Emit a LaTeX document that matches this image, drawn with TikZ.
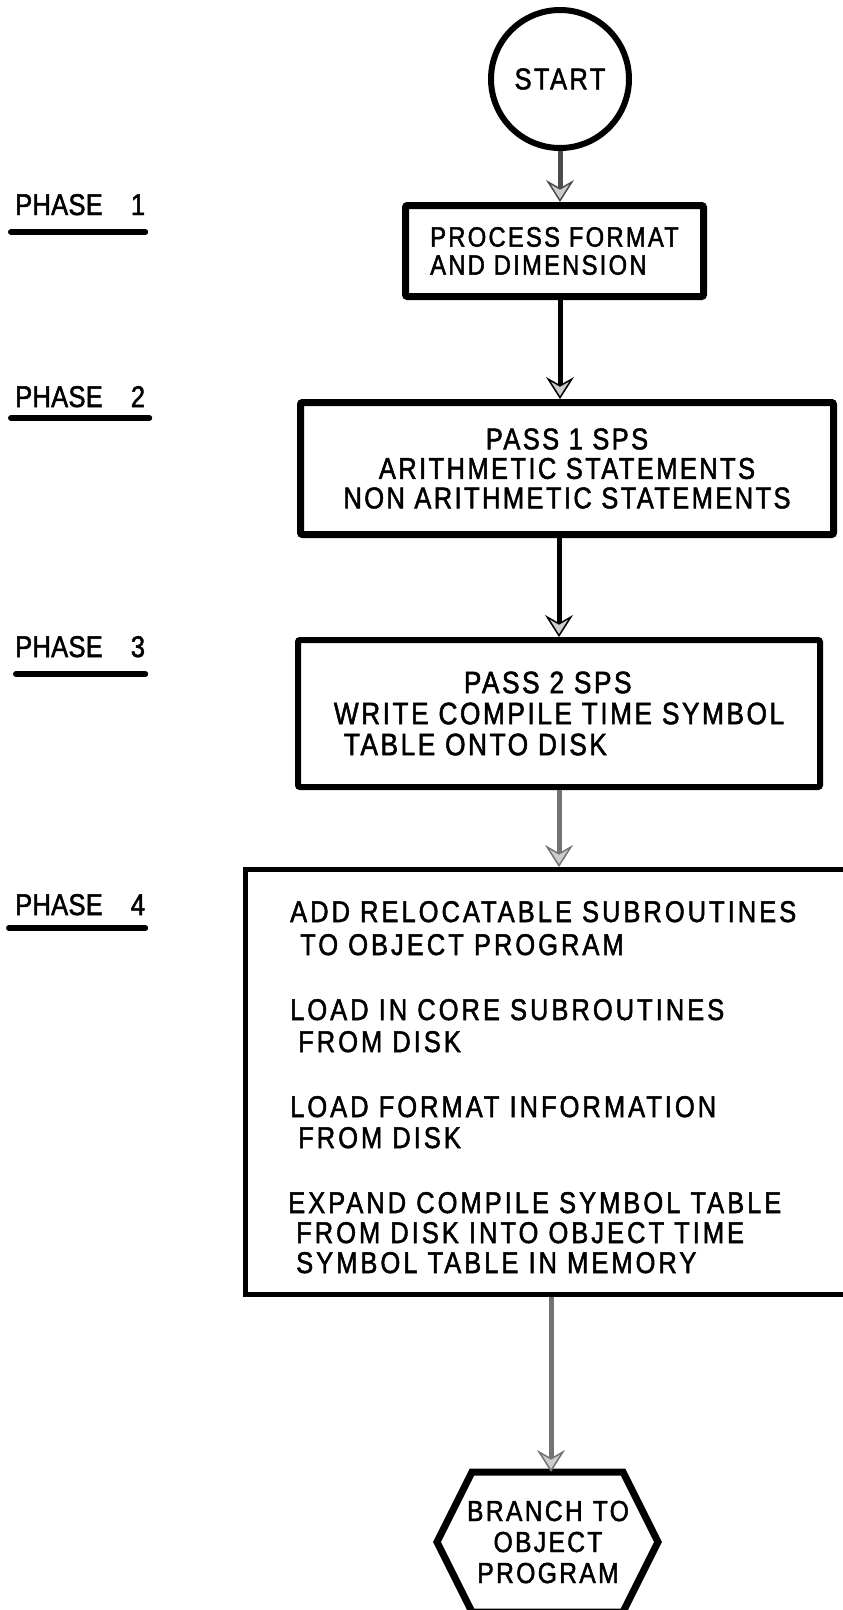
\documentclass[tikz,border=0pt]{standalone}
\usepackage{fontspec}
\setmainfont{Liberation Sans}[FakeStretch=0.85, LetterSpace=8, FakeBold=1.6]
\usetikzlibrary{arrows.meta}
\begin{document}
\begin{tikzpicture}[x=1pt,y=-1pt,
  phase/.style={font=\fontsize{30}{30}\selectfont\addfontfeature{LetterSpace=1}, inner sep=0pt, anchor=base west},
  uline/.style={line width=6pt, line cap=round},
  procbox/.style={draw, line width=7pt, rounded corners=2pt, inner sep=0pt},
  txt/.style={font=\fontsize{30}{30}\selectfont\addfontfeature{LetterSpace=10}, inner sep=0pt, anchor=base west},
  flow/.style={line width=5pt, -{Stealth[length=22pt,width=28pt,inset=8pt,line width=1.5pt,fill=black!20]}},
  faint/.style={draw=black!55},
]
\useasboundingbox (0,0) rectangle (843,1610);

% phase labels
\node[phase] (p1) at (15,215) {PHASE\hspace{28pt}1};
\node[phase] (p2) at (15,407) {PHASE\hspace{28pt}2};
\node[phase] (p3) at (15,657) {PHASE\hspace{28pt}3};
\node[phase] (p4) at (15,915) {PHASE\hspace{28pt}4};
\draw[uline] ([shift={(-4,17)}]p1.base west) -- ([shift={(0,17)}]p1.base east);
\draw[uline] ([shift={(-4,11)}]p2.base west) -- ([shift={(4,11)}]p2.base east);
\draw[uline] ([shift={(1,17)}]p3.base west) -- ([shift={(0,17)}]p3.base east);
\draw[uline] ([shift={(-6,13)}]p4.base west) -- ([shift={(0,13)}]p4.base east);

% start
\node[circle, draw, line width=6pt, minimum size=138pt, inner sep=0pt,
      font=\fontsize{30}{30}\selectfont] (start) at (560,79) {START};

% boxes
\node[procbox, minimum width=298pt, minimum height=91pt, align=left,
      font=\fontsize{28}{28}\selectfont] (b1) at (554.5,251)
      {PROCESS FORMAT\\AND DIMENSION};
\node[procbox, minimum width=533pt, minimum height=132pt, align=center,
      font=\fontsize{30}{29.5}\selectfont] (b2) at (567,468.5)
      {PASS 1 SPS\\ARITHMETIC STATEMENTS\\NON ARITHMETIC STATEMENTS};
\node[procbox, line width=6pt, minimum width=522pt, minimum height=147pt, align=left,
      font=\fontsize{31}{31}\selectfont] (b3) at (559,713.5)
      {\hspace*{130pt}PASS 2 SPS\\WRITE COMPILE TIME SYMBOL\\\hspace*{10pt}TABLE ONTO DISK};
\node[draw, line width=5pt, minimum width=635pt, minimum height=425pt, inner sep=0pt] (b4) at (563,1082) {};

\node[txt] (t1) at (290,922) {ADD RELOCATABLE SUBROUTINES};
\node[txt] (t2) at (300,955) {TO OBJECT PROGRAM};
\node[txt] (t3) at (290,1020) {LOAD IN CORE SUBROUTINES};
\node[txt] (t4) at (298,1052) {FROM DISK};
\node[txt] (t5) at (290,1117) {LOAD FORMAT INFORMATION};
\node[txt] (t6) at (298,1148) {FROM DISK};
\node[txt] (t7) at (288,1213) {EXPAND COMPILE SYMBOL TABLE};
\node[txt] (t8) at (296,1243) {FROM DISK INTO OBJECT TIME};
\node[txt] (t9) at (296,1273) {SYMBOL TABLE IN MEMORY};

% hexagon
\coordinate (hextop) at (551,1472);
\draw[line width=7pt, line join=miter] (472,1472) -- (623,1472) -- (658,1542) -- (623,1612)
   -- (472,1612) -- (437,1542) -- cycle;
\node[font=\fontsize{29}{31}\selectfont, align=center, inner sep=0pt] (hex) at (548,1542)
   {BRANCH\hspace{10pt}TO\\OBJECT\\PROGRAM};

% connectors
\draw[flow, draw=black!70] (start.south) -- (b1.north -| start.south);
\draw[flow] (b1.south -| start.south) -- (b2.north -| start.south);
\draw[flow] (b2.south -| b3.north) -- (b3.north);
\draw[flow, faint] (b3.south) -- (b4.north -| b3.south);
\draw[flow, faint] (b4.south -| hextop) -- (hextop);
\end{tikzpicture}
\end{document}
